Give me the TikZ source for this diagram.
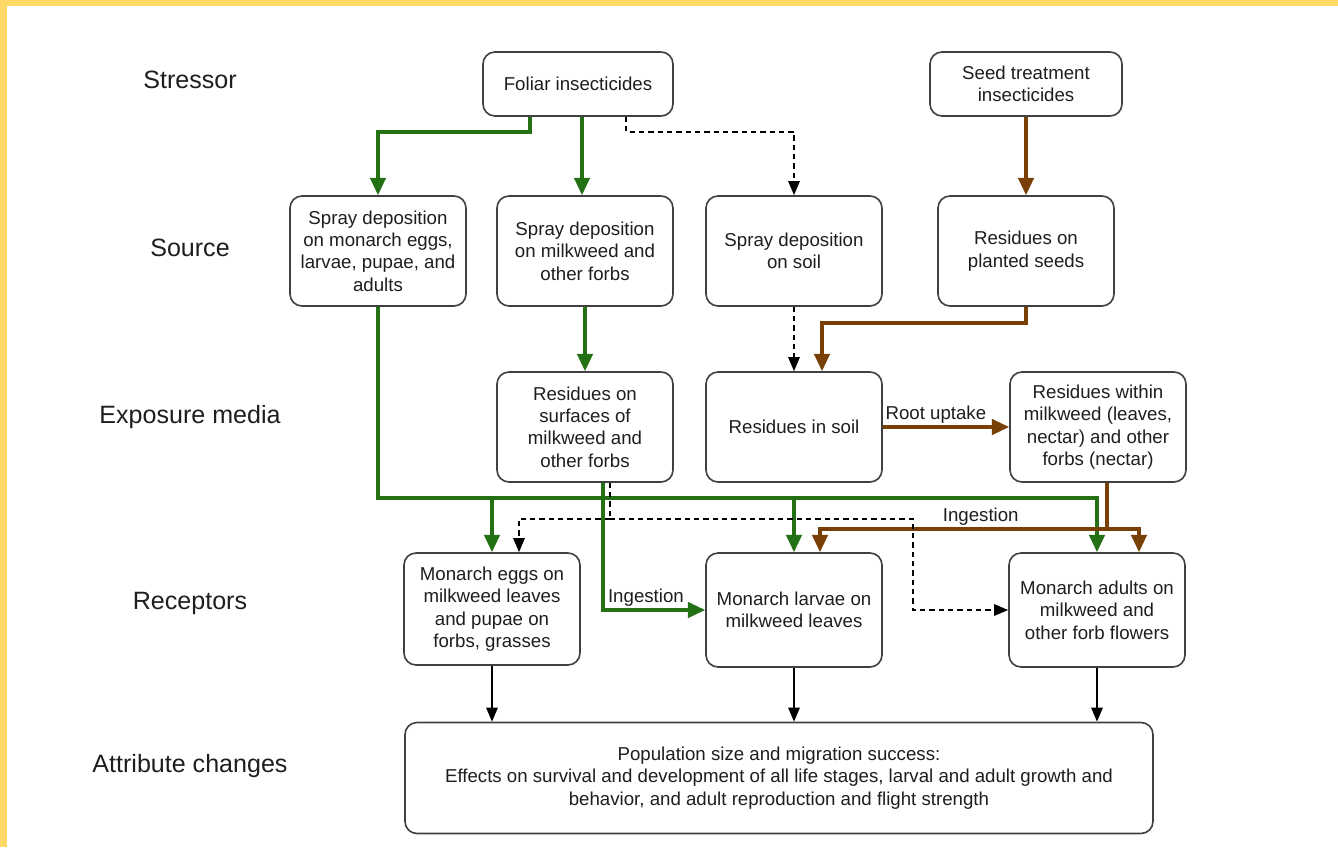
\documentclass[tikz,border=0pt]{standalone}
\usepackage{fontspec}
\setmainfont{Liberation Sans}
\usetikzlibrary{arrows.meta,calc}

\definecolor{flowgreen}{RGB}{36,112,20}
\definecolor{flowbrown}{RGB}{120,63,6}
\definecolor{boxline}{RGB}{64,64,64}
\definecolor{textgray}{RGB}{30,30,30}
\definecolor{framegold}{RGB}{255,217,102}

\begin{document}
\begin{tikzpicture}[
x=0.75pt, y=-0.75pt,
box/.style={draw=boxline, line width=1.2pt, rounded corners=9pt, minimum width=132pt, minimum height=82.5pt, align=center, text=textgray, font=\fontsize{14pt}{16.8pt}\selectfont},
tier/.style={text=textgray, font=\fontsize{18.8pt}{22pt}\selectfont},
lbl/.style={text=textgray, inner sep=1.5pt, font=\fontsize{14pt}{16.8pt}\selectfont},
gflow/.style={draw=flowgreen, line width=2.6pt, -{Triangle[length=13pt,width=11.5pt]}},
bflow/.style={draw=flowbrown, line width=2.6pt, -{Triangle[length=13pt,width=11.5pt]}},
dflow/.style={draw=black, line width=1.3pt, dash pattern=on 4pt off 3pt, -{Triangle[length=10.5pt,width=8.5pt]}},
kflow/.style={draw=black, line width=1.3pt, -{Triangle[length=10.5pt,width=8.5pt]}}
]
\fill[white] (0,0) rectangle (1338,847);
\fill[framegold] (0,0) rectangle (7,847);
\fill[framegold] (0,0) rectangle (1338,6);
\useasboundingbox (0,0) rectangle (1338,847);

\node[tier] (tStressor) at (190,80) {Stressor};
\node[tier] (tSource) at (190,248) {Source};
\node[tier] (tMedia) at (190,417) {Exposure media};
\node[tier] (tReceptors) at (190,603) {Receptors};
\node[tier] (tChanges) at (190,766) {Attribute changes};

\node[box, minimum width=142.5pt, minimum height=48pt] (foliar) at (578,84) {Foliar insecticides};
\node[box, minimum width=144pt, minimum height=48pt] (seedtreat) at (1026,84) {Seed treatment\\insecticides};

\node[box] (sprayMonarch) at (378,251) {Spray deposition\\on monarch eggs,\\larvae, pupae, and\\adults};
\node[box] (sprayForbs) at (585,251) {Spray deposition\\on milkweed and\\other forbs};
\node[box] (spraySoil) at (794,251) {Spray deposition\\on soil};
\node[box] (seeds) at (1026,251) {Residues on\\planted seeds};

\node[box] (surfaces) at (585,427) {Residues on\\surfaces of\\milkweed and\\other forbs};
\node[box] (soil) at (794,427) {Residues in soil};
\node[box] (within) at (1098,427) {Residues within\\milkweed (leaves,\\nectar) and other\\forbs (nectar)};

\node[box, minimum height=84pt] (eggs) at (492,609) {Monarch eggs on\\milkweed leaves\\and pupae on\\forbs, grasses};
\node[box, minimum height=85.5pt] (larvae) at (794,610) {Monarch larvae on\\milkweed leaves};
\node[box, minimum height=85.5pt] (adults) at (1097,610) {Monarch adults on\\milkweed and\\other forb flowers};

\node[box, minimum width=561pt, minimum height=83.25pt] (changes) at (779,778) {Population size and migration success:\\Effects on survival and development of all life stages, larval and adult growth and\\behavior, and adult reproduction and flight strength};

\draw[gflow] ([xshift=-36pt]foliar.south) -- ++(0,15) -| (sprayMonarch);
\draw[gflow] ([xshift=3pt]foliar.south) -- ([xshift=-2.25pt]sprayForbs.north);
\draw[dflow] ([xshift=36pt]foliar.south) -- ++(0,15) -| (spraySoil);
\draw[bflow] (seedtreat) -- (seeds);

\draw[gflow] (sprayForbs) -- (surfaces);
\draw[dflow] (spraySoil) -- (soil);
\draw[bflow] (seeds.south) -- ++(0,16) -| ([xshift=21pt]soil.north);
\draw[bflow] (soil) -- node[lbl, above, pos=0.42]{Root uptake} (within);

\coordinate (gbus) at (378,498);
\draw[gflow] (sprayMonarch) -- (gbus) -| (adults);
\draw[gflow] (gbus -| eggs) -- (eggs);
\draw[gflow] (gbus -| larvae) -- (larvae);

\draw[bflow, -] ([xshift=6.75pt]within.south) -- ++(0,46) coordinate (bbus);
\draw[bflow] (bbus) -| node[lbl, above, pos=0.22]{Ingestion} ([xshift=19.5pt]larvae.north);
\draw[bflow] (bbus) -| ([xshift=31.5pt]adults.north);

\draw[gflow] ([xshift=13.5pt]surfaces.south) |- node[lbl, above, pos=0.71]{Ingestion} (larvae);

\draw[dflow, -] ([xshift=18.75pt]surfaces.south) -- ++(0,36) coordinate (dbus);
\draw[dflow] (dbus) -| ([xshift=20.25pt]eggs.north);
\draw[dflow] (dbus) -- ++(303,0) |- (adults);

\draw[kflow] (eggs) -- (eggs |- changes.north);
\draw[kflow] (larvae) -- (larvae |- changes.north);
\draw[kflow] (adults) -- (adults |- changes.north);
\end{tikzpicture}
\end{document}
